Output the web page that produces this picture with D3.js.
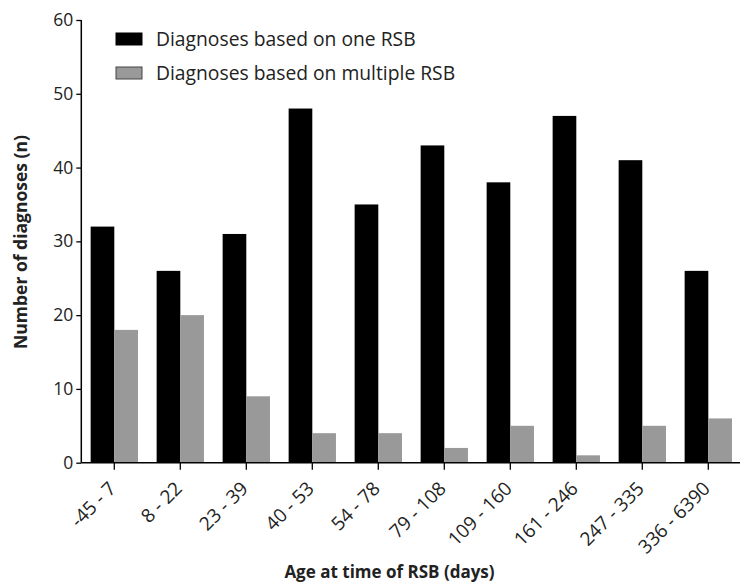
<!DOCTYPE html>
<html><head><meta charset="utf-8">
<script src="https://cdn.jsdelivr.net/npm/d3@7"></script>
<style>body{margin:0;background:#fff}svg{display:block}text{font-family:"Open Sans",sans-serif;fill:#222}</style>
</head><body><svg id="c" width="740" height="583"></svg>
<script>
const categories = ["-45 - 7","8 - 22","23 - 39","40 - 53","54 - 78","79 - 108","109 - 160","161 - 246","247 - 335","336 - 6390"];
const oneRSB = [32,26,31,48,35,43,38,47,41,26];
const multipleRSB = [18,20,9,4,4,2,5,1,5,6];
const yTicks = [0,10,20,30,40,50,60];
const seriesNames = ["Diagnoses based on one RSB","Diagnoses based on multiple RSB"];
const seriesColors = ["#000000","#999999"];

const svg = d3.select("#c");
const x0 = 81.3, yBase = 462.7, yTop = 20;
const x = d3.scaleBand().domain(categories).range([x0, x0 + 660]).paddingInner(0.283).paddingOuter(0.1415);
const y = d3.scaleLinear().domain([0,60]).range([yBase, yTop]);
const xs = d3.scaleBand().domain([0,1]).range([0, x.bandwidth()]);

const series = [oneRSB, multipleRSB];
series.forEach((vals, si) => {
  svg.append("g").selectAll("rect").data(vals).join("rect")
    .attr("x", (d,i) => x(categories[i]) + xs(si))
    .attr("y", d => y(d))
    .attr("width", xs.bandwidth())
    .attr("height", d => y(0) - y(d))
    .attr("fill", seriesColors[si]);
});

// y axis
const ya = svg.append("g").attr("transform", `translate(${x0},0)`)
  .call(d3.axisLeft(y).tickValues(yTicks).tickSize(5).tickPadding(3));
ya.select(".domain").attr("stroke","#000").attr("stroke-width",1.5).attr("d",`M0,${yTop}V${yBase}`);
ya.selectAll(".tick line").attr("stroke","#000").attr("stroke-width",1.3);
ya.selectAll(".tick text").style("font-size","17.5px").attr("fill","#222").style("font-family","'Open Sans',sans-serif");

// x axis
const xa = svg.append("g").attr("transform", `translate(0,${yBase})`)
  .call(d3.axisBottom(x).tickSize(7).tickPadding(3).tickSizeOuter(0));
xa.select(".domain").attr("stroke","#000").attr("stroke-width",1.5).attr("d",`M${x0},0H740`);
xa.selectAll(".tick line").attr("stroke","#000").attr("stroke-width",1.3);
xa.selectAll(".tick text").style("font-size","19px").attr("fill","#222").style("font-family","'Open Sans',sans-serif")
  .attr("text-anchor","end").attr("dy","0").attr("y",0).attr("transform","translate(3,27) rotate(-45)");

// legend
const lg = svg.append("g");
seriesNames.forEach((n, i) => {
  const yy = 33 + i*34;
  lg.append("rect").attr("x",116).attr("y",yy).attr("width",26).attr("height",12)
    .attr("fill",seriesColors[i]).attr("stroke", i===1 ? "#444" : "#000").attr("stroke-width",1);
  lg.append("text").attr("x",156).attr("y",yy+13).style("font-size","19.3px").text(n);
});

// axis titles
svg.append("text").attr("transform","translate(27,242) rotate(-90)").attr("text-anchor","middle")
  .style("font-size","17.5px").style("font-weight","bold").attr("fill","#111").text("Number of diagnoses (n)");
svg.append("text").attr("x",389.5).attr("y",578).attr("text-anchor","middle")
  .style("font-size","17px").style("font-weight","bold").attr("fill","#111").text("Age at time of RSB (days)");
</script></body></html>
